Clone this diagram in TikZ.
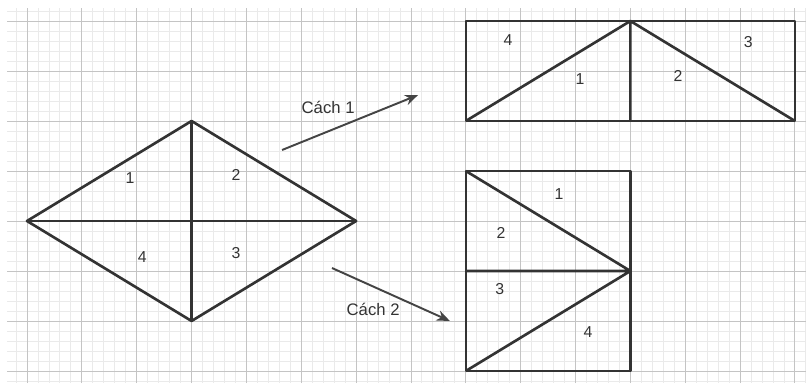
\documentclass[tikz,border=0pt]{standalone}
\usepackage{fontspec}
\setmainfont{Liberation Sans}
\usepackage{xcolor}
\usepackage{tikz}
\usetikzlibrary{arrows.meta}
\definecolor{gridminor}{HTML}{EAEAEA}
\definecolor{gridmajor}{HTML}{C4C4C4}
\definecolor{edgegray}{HTML}{333333}
\definecolor{arrowgray}{HTML}{444444}

\tikzset{
  piece/.style={draw=edgegray, line width=1.5pt, line join=round},
  num/.style={font=\fontsize{9}{10}\selectfont, text=edgegray, inner sep=0pt},
  way/.style={draw=arrowgray, line width=1.1pt, -{Stealth[length=7.5pt, width=6pt]}},
  waylabel/.style={font=\fontsize{9.5}{11}\selectfont, text=edgegray, inner sep=0pt}
}

\begin{document}
\begin{tikzpicture}[x=1.097cm, y=1cm]
  \useasboundingbox (-0.4923,-0.24) rectangle (14.202,7.42);
  % squared paper
  \draw[gridminor, line width=0.5pt, step={(0.2,0.2)}] (-0.3646,-0.24) grid (14.202,7.26);
  \draw[gridmajor, line width=0.5pt, step={(1,1)}] (-0.3646,-0.24) grid (14.202,7.26);

  % rhombus
  \coordinate (rl) at (0,3);
  \coordinate (rt) at (3,5);
  \coordinate (rr) at (6,3);
  \coordinate (rb) at (3,1);
  \draw[piece] (rl) -- (rt) -- (rr) -- (rb) -- cycle;
  \draw[piece] (rl) -- (rr) (rt) -- (rb);
  \node[num] (r1) at (1.88,3.86) {1};
  \node[num] (r2) at (3.81,3.92) {2};
  \node[num] (r3) at (3.81,2.36) {3};
  \node[num] (r4) at (2.10,2.28) {4};

  % way 1
  \coordinate (asw) at (8,5);
  \coordinate (ase) at (14,5);
  \coordinate (ane) at (14,7);
  \coordinate (atop) at (11,7);
  \coordinate (abot) at (11,5);
  \draw[piece] (asw) rectangle (ane);
  \draw[piece] (asw) -- (atop) -- (ase) (atop) -- (abot);
  \node[num] (a1) at (10.08,5.84) {1};
  \node[num] (a2) at (11.87,5.90) {2};
  \node[num] (a3) at (13.15,6.58) {3};
  \node[num] (a4) at (8.77,6.62) {4};

  % way 2
  \coordinate (bsw) at (8,0);
  \coordinate (bne) at (11,4);
  \coordinate (bnw) at (8,4);
  \coordinate (bwest) at (8,2);
  \coordinate (beast) at (11,2);
  \draw[piece] (bsw) rectangle (bne);
  \draw[piece] (bnw) -- (beast) -- (bsw) (bwest) -- (beast);
  \node[num] (b1) at (9.70,3.54) {1};
  \node[num] (b2) at (8.64,2.76) {2};
  \node[num] (b3) at (8.62,1.64) {3};
  \node[num] (b4) at (10.23,0.78) {4};

  % arrows
  \coordinate (go1) at (4.65,4.42);
  \coordinate (to1) at (7.13,5.52);
  \coordinate (go2) at (5.56,2.06);
  \coordinate (to2) at (7.71,1.00);
  \draw[way] (go1) -- (to1);
  \draw[way] (go2) -- (to2);
  \node[waylabel] (way1) at (5.49,5.28) {Cách 1};
  \node[waylabel] (way2) at (6.31,1.24) {Cách 2};
\end{tikzpicture}
\end{document}
